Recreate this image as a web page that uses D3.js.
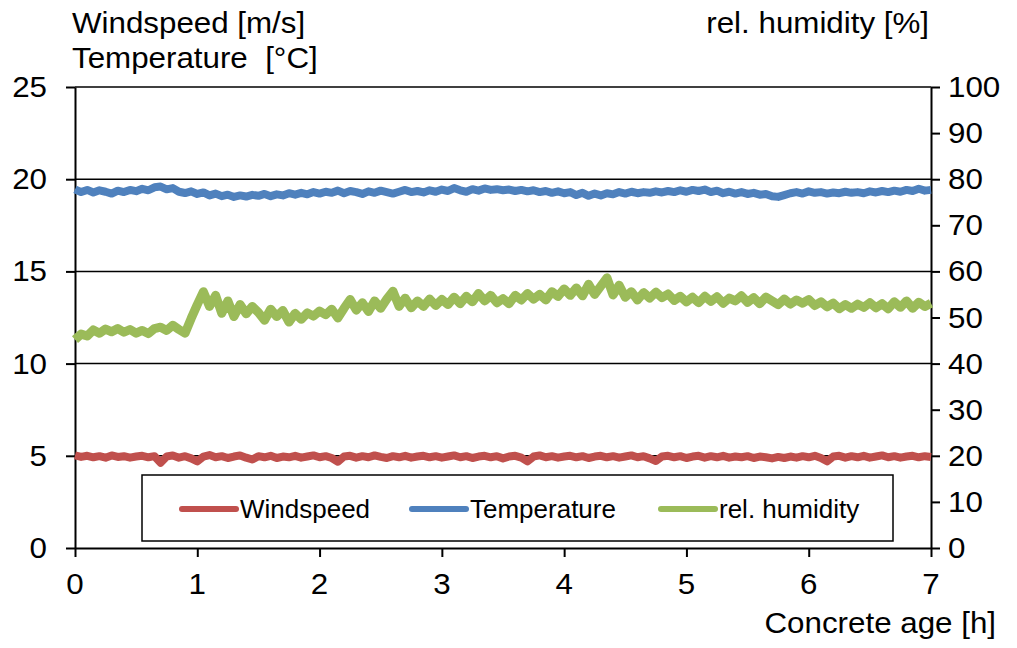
<!DOCTYPE html>
<html lang="en">
  <head>
    <meta charset="UTF-8" />
    <script src="https://cdnjs.cloudflare.com/ajax/libs/d3/7.8.5/d3.min.js"></script>
    <style>
      body { margin: 0; background: #fff; }
      svg text { font-family: "Liberation Sans", Arial, sans-serif; fill: #000; }
    </style>
  </head>
  <body>
    <svg id="chart" width="1017" height="648"></svg>
    <script>
      // concrete age [h]
      var hours = [
        0, 0.05, 0.1, 0.15, 0.2, 0.25, 0.3, 0.35, 0.4, 0.45,
        0.5, 0.55, 0.6, 0.65, 0.7, 0.75, 0.8, 0.85, 0.9, 0.95,
        1, 1.05, 1.1, 1.15, 1.2, 1.25, 1.3, 1.35, 1.4, 1.45,
        1.5, 1.55, 1.6, 1.65, 1.7, 1.75, 1.8, 1.85, 1.9, 1.95,
        2, 2.05, 2.1, 2.15, 2.2, 2.25, 2.3, 2.35, 2.4, 2.45,
        2.5, 2.55, 2.6, 2.65, 2.7, 2.75, 2.8, 2.85, 2.9, 2.95,
        3, 3.05, 3.1, 3.15, 3.2, 3.25, 3.3, 3.35, 3.4, 3.45,
        3.5, 3.55, 3.6, 3.65, 3.7, 3.75, 3.8, 3.85, 3.9, 3.95,
        4, 4.05, 4.1, 4.15, 4.2, 4.25, 4.3, 4.35, 4.4, 4.45,
        4.5, 4.55, 4.6, 4.65, 4.7, 4.75, 4.8, 4.85, 4.9, 4.95,
        5, 5.05, 5.1, 5.15, 5.2, 5.25, 5.3, 5.35, 5.4, 5.45,
        5.5, 5.55, 5.6, 5.65, 5.7, 5.75, 5.8, 5.85, 5.9, 5.95,
        6, 6.05, 6.1, 6.15, 6.2, 6.25, 6.3, 6.35, 6.4, 6.45,
        6.5, 6.55, 6.6, 6.65, 6.7, 6.75, 6.8, 6.85, 6.9, 6.95,
        7
      ];

      // windspeed [m/s]
      var windspeed = [
        5.02, 4.94, 5.00, 4.92, 4.98, 4.90, 5.02, 4.94, 4.98, 4.90,
        4.96, 5.00, 4.92, 4.98, 4.62, 4.96, 5.02, 4.90, 4.98, 4.86,
        4.70, 4.96, 5.04, 4.92, 4.98, 4.88, 4.96, 5.02, 4.90, 4.80,
        4.98, 4.92, 5.00, 4.88, 4.96, 4.92, 5.00, 4.90, 4.96, 5.02,
        4.92, 4.98, 4.88, 4.68, 4.96, 5.00, 4.90, 4.98, 4.92, 5.02,
        4.94, 4.88, 4.98, 4.92, 5.00, 4.90, 4.96, 5.00, 4.92, 4.98,
        4.90, 4.96, 5.02, 4.92, 4.98, 4.88, 4.96, 5.00, 4.92, 4.98,
        4.86, 4.96, 5.00, 4.90, 4.70, 4.96, 5.02, 4.92, 4.98, 4.90,
        4.96, 5.00, 4.92, 4.98, 4.88, 4.96, 5.00, 4.92, 4.98, 4.90,
        4.96, 5.02, 4.92, 4.98, 4.86, 4.72, 4.96, 5.00, 4.92, 4.98,
        4.88, 4.96, 5.00, 4.90, 4.98, 4.92, 5.00, 4.90, 4.96, 4.92,
        4.98, 4.88, 4.96, 4.92, 4.86, 4.94, 4.88, 4.96, 4.90, 4.98,
        4.92, 5.00, 4.88, 4.70, 4.96, 5.00, 4.90, 4.98, 4.92, 5.00,
        4.90, 4.96, 5.02, 4.92, 4.98, 4.90, 4.96, 5.00, 4.92, 4.98,
        4.94
      ];

      // temperature [°C]
      var temperature = [
        19.45, 19.30, 19.42, 19.28, 19.40, 19.32, 19.22, 19.38, 19.30, 19.42,
        19.35, 19.48, 19.40, 19.56, 19.60, 19.45, 19.52, 19.32, 19.25, 19.34,
        19.20, 19.28, 19.12, 19.22, 19.08, 19.16, 19.04, 19.12, 19.06, 19.15,
        19.10, 19.20, 19.08, 19.18, 19.12, 19.24, 19.16, 19.26, 19.18, 19.30,
        19.22, 19.32, 19.26, 19.38, 19.24, 19.36, 19.30, 19.20, 19.34, 19.26,
        19.38, 19.30, 19.22, 19.32, 19.42, 19.30, 19.36, 19.28, 19.40, 19.32,
        19.44, 19.36, 19.52, 19.40, 19.32, 19.46, 19.38, 19.50, 19.42, 19.46,
        19.40, 19.44, 19.36, 19.42, 19.34, 19.40, 19.30, 19.36, 19.26, 19.34,
        19.24, 19.30, 19.14, 19.26, 19.10, 19.22, 19.12, 19.24, 19.18, 19.30,
        19.22, 19.32, 19.24, 19.30, 19.26, 19.34, 19.28, 19.36, 19.30, 19.40,
        19.32, 19.42, 19.36, 19.44, 19.30, 19.38, 19.24, 19.32, 19.22, 19.30,
        19.20, 19.26, 19.16, 19.20, 19.08, 19.04, 19.14, 19.24, 19.30, 19.22,
        19.34, 19.26, 19.30, 19.22, 19.28, 19.24, 19.32, 19.26, 19.30, 19.24,
        19.34, 19.28, 19.36, 19.30, 19.38, 19.32, 19.42, 19.36, 19.48, 19.38,
        19.42
      ];

      // rel. humidity [%]
      var humidity = [
        45.2, 46.4, 46.0, 47.3, 46.6, 47.5, 46.9, 47.6, 46.8, 47.4,
        46.6, 47.2, 46.5, 47.6, 47.9, 47.2, 48.3, 47.4, 46.6, 49.8,
        52.8, 55.6, 52.4, 54.8, 50.9, 53.6, 50.2, 52.8, 50.8, 52.4,
        51.1, 49.4, 51.8, 50.2, 51.5, 49.0, 50.9, 49.6, 51.0, 50.3,
        51.4, 50.6, 51.8, 49.9, 52.0, 53.9, 51.6, 53.2, 51.3, 53.6,
        52.0, 54.0, 55.7, 52.4, 54.2, 52.1, 53.6, 52.4, 54.0, 52.6,
        53.9, 52.8, 54.4, 53.0, 54.6, 53.4, 55.2, 53.6, 54.8, 53.2,
        54.1, 53.0, 54.8, 53.8, 55.2, 54.0, 55.0, 53.8, 55.6, 54.6,
        56.2, 54.8, 56.4, 54.7, 57.2, 55.0, 56.8, 58.6, 54.9, 57.0,
        54.4, 55.6, 53.8, 55.4, 54.2, 55.5, 54.3, 55.1, 53.7, 54.6,
        53.4, 54.4, 53.2, 54.6, 53.5, 54.5, 53.1, 54.2, 53.6, 54.7,
        53.3, 54.3, 53.0, 54.4, 53.6, 52.8, 54.0, 52.9, 53.8, 53.1,
        53.9, 52.6, 53.4, 52.3, 53.1, 51.9, 52.8, 52.0, 52.9, 52.2,
        53.2, 52.1, 53.0, 51.9, 53.4, 52.2, 53.6, 52.0, 53.3, 52.4,
        53.1
      ];

      var leftTicks = [0, 5, 10, 15, 20, 25];
      var rightTicks = [0, 10, 20, 30, 40, 50, 60, 70, 80, 90, 100];
      var xTicks = [0, 1, 2, 3, 4, 5, 6, 7];
      var seriesNames = ["Windspeed", "Temperature", "rel. humidity"];
      var seriesColors = ["#C0504D", "#4F81BD", "#9BBB59"];

      var plotLeft = 75, plotRight = 931, plotTop = 87, plotBottom = 548;
      var stretch = 1.08;

      var svg = d3.select("#chart");

      var x = d3.scaleLinear().domain([0, 7]).range([plotLeft, plotRight]);
      var yLeft = d3.scaleLinear().domain([0, 25]).range([plotBottom, plotTop]);
      var yRight = d3.scaleLinear().domain([0, 100]).range([plotBottom, plotTop]);

      // text helper, a bit wider than plain Arial like the original
      function label(str, px, py, size, anchor, sx) {
        return svg
          .append("text")
          .attr("transform", "translate(" + px + "," + py + ") scale(" + (sx || stretch) + ",1)")
          .attr("text-anchor", anchor || "start")
          .style("font-size", size + "px")
          .text(str);
      }

      // horizontal gridlines
      svg
        .append("g")
        .selectAll("line")
        .data(leftTicks.slice(1))
        .enter()
        .append("line")
        .attr("x1", plotLeft)
        .attr("x2", plotRight)
        .attr("y1", (d) => yLeft(d))
        .attr("y2", (d) => yLeft(d))
        .attr("stroke", "#000")
        .attr("stroke-width", 1.5);

      // axes (lines and ticks only)
      function styleAxis(g) {
        g.selectAll("text").remove();
        g.selectAll("path, line").attr("stroke", "#000").attr("stroke-width", 2);
      }
      svg
        .append("g")
        .attr("transform", "translate(" + plotLeft + ",0)")
        .call(d3.axisLeft(yLeft).tickValues(leftTicks).tickSize(9).tickSizeOuter(0))
        .call(styleAxis);
      svg
        .append("g")
        .attr("transform", "translate(" + plotRight + ",0)")
        .call(d3.axisRight(yRight).tickValues(rightTicks).tickSize(9).tickSizeOuter(0))
        .call(styleAxis);
      svg
        .append("g")
        .attr("transform", "translate(0," + plotBottom + ")")
        .call(d3.axisBottom(x).tickValues(xTicks).tickSize(9).tickSizeOuter(0))
        .call(styleAxis);

      // tick labels
      leftTicks.forEach((d) => label(d, plotLeft - 28, yLeft(d) + 10, 29, "end"));
      rightTicks.forEach((d) => label(d, plotRight + 17, yRight(d) + 10, 29, "start"));
      xTicks.forEach((d) => label(d, x(d), plotBottom + 46, 29, "middle"));

      // axis titles
      label("Windspeed [m/s]", 72, 33, 29, "start");
      label("Temperature\u00a0 [°C]", 72, 68, 29, "start");
      label("rel. humidity [%]", 929, 33, 29, "end");
      label("Concrete age [h]", 996, 633, 29, "end");

      // series
      var lineLeft = d3
        .line()
        .x((d, i) => x(hours[i]))
        .y((d) => yLeft(d));
      var lineRight = d3
        .line()
        .x((d, i) => x(hours[i]))
        .y((d) => yRight(d));

      var plot = svg.append("g");
      plot
        .append("path")
        .attr("d", lineLeft(windspeed))
        .attr("fill", "none")
        .attr("stroke", seriesColors[0])
        .attr("stroke-width", 8)
        .attr("stroke-linejoin", "round");
      plot
        .append("path")
        .attr("d", lineLeft(temperature))
        .attr("fill", "none")
        .attr("stroke", seriesColors[1])
        .attr("stroke-width", 8)
        .attr("stroke-linejoin", "round");
      plot
        .append("path")
        .attr("d", lineRight(humidity))
        .attr("fill", "none")
        .attr("stroke", seriesColors[2])
        .attr("stroke-width", 9)
        .attr("stroke-linejoin", "round");

      // legend
      var legendX = [182, 412, 661];
      svg
        .append("rect")
        .attr("x", 142)
        .attr("y", 475)
        .attr("width", 751)
        .attr("height", 66)
        .attr("fill", "#fff")
        .attr("stroke", "#000")
        .attr("stroke-width", 1.5);
      seriesNames.forEach(function (name, i) {
        svg
          .append("line")
          .attr("x1", legendX[i])
          .attr("x2", legendX[i] + 54)
          .attr("y1", 509)
          .attr("y2", 509)
          .attr("stroke", seriesColors[i])
          .attr("stroke-width", 6)
          .attr("stroke-linecap", "round");
        label(name, legendX[i] + 58, 518, 25, "start", 1.04);
      });
    </script>
  </body>
</html>
